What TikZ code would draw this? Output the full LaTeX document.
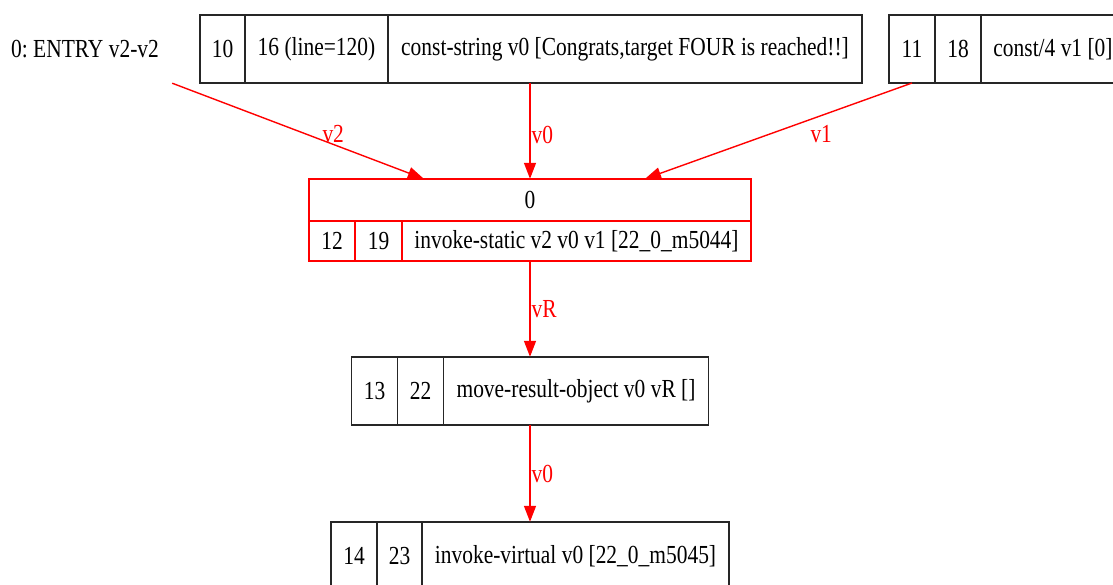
\documentclass[tikz,border=0pt]{standalone}
\usepackage{fontspec}
\setmainfont{Liberation Serif}[FakeStretch=0.825]
\usepackage{xcolor}
\usetikzlibrary{positioning,arrows.meta,calc,fit}
\frenchspacing

\begin{document}
\begin{tikzpicture}[
    x=1pt, y=-1pt,
    every node/.style={font=\fontsize{26}{30}\selectfont},
    cell/.style={rectangle, draw=black!85, line width=1.5pt, inner sep=0pt,
                 outer sep=0pt, minimum height=68pt},
    hotcell/.style={cell, draw=red},
    flow/.style={-{Triangle[length=16pt,width=12pt]}, draw=red, line width=1.4pt},
    flowlabel/.style={text=red, inner sep=1pt},
    node distance=0pt
]
\useasboundingbox (0,0) rectangle (1113,584);

% Entry point
\node[minimum width=174pt, minimum height=68pt, inner sep=0pt] (entry) at (85,49) {0: ENTRY v2-v2};

% const-string record
\node[cell, minimum width=45pt] (a1) at (222.5,49) {10};
\node[cell, minimum width=143pt, right=of a1] (a2) {16 (line=120)};
\node[cell, minimum width=474pt, right=of a2] (a3) {const-string v0 [Congrats,target FOUR is reached!!]};

% const/4 record
\node[cell, minimum width=46pt] (b1) at (912,49) {11};
\node[cell, minimum width=46pt, right=of b1] (b2) {18};
\node[cell, minimum width=144pt, right=of b2] (b3) {const/4 v1 [0]};

% invoke-static record (highlighted)
\node[hotcell, minimum width=442pt, minimum height=42pt] (n0) at (530,200) {0};
\node[hotcell, minimum width=46pt, minimum height=40pt, below right=of n0.south west] (n1) {12};
\node[hotcell, minimum width=47pt, minimum height=40pt, right=of n1] (n2) {19};
\node[hotcell, minimum width=349pt, minimum height=40pt, right=of n2] (n3) {invoke-static v2 v0 v1 [22\_0\_m5044]};
\node[fit=(n0)(n3), inner sep=0pt] (invoke) {};

% move-result-object record
\node[cell, minimum width=46pt] (c1) at (374.5,391) {13};
\node[cell, minimum width=46pt, right=of c1] (c2) {22};
\node[cell, minimum width=265pt, right=of c2] (c3) {move-result-object v0 vR []};
\node[fit=(c1)(c3), inner sep=0pt] (moveres) {};

% invoke-virtual record
\node[cell, minimum width=46pt] (d1) at (354,556) {14};
\node[cell, minimum width=45pt, right=of d1] (d2) {23};
\node[cell, minimum width=307pt, right=of d2] (d3) {invoke-virtual v0 [22\_0\_m5045]};
\node[fit=(d1)(d3), inner sep=0pt] (invvirt) {};

% Data flow
\draw[flow] (entry.south east) -- node[flowlabel, pos=0.64, above] {v2}
    ($(invoke.north west)!0.26!(invoke.north east)$);
\draw[flow] (invoke.north |- a3.south) -- node[flowlabel, pos=0.54, right] {v0} (invoke.north);
\draw[flow] (b1.south) -- node[flowlabel, pos=0.34, below=8pt] {v1}
    ($(invoke.north west)!0.76!(invoke.north east)$);
\draw[flow] (invoke.south) -- node[flowlabel, pos=0.5, right] {vR} (moveres.north);
\draw[flow] (moveres.south) -- node[flowlabel, pos=0.51, right] {v0} (invvirt.north);

\end{tikzpicture}
\end{document}
